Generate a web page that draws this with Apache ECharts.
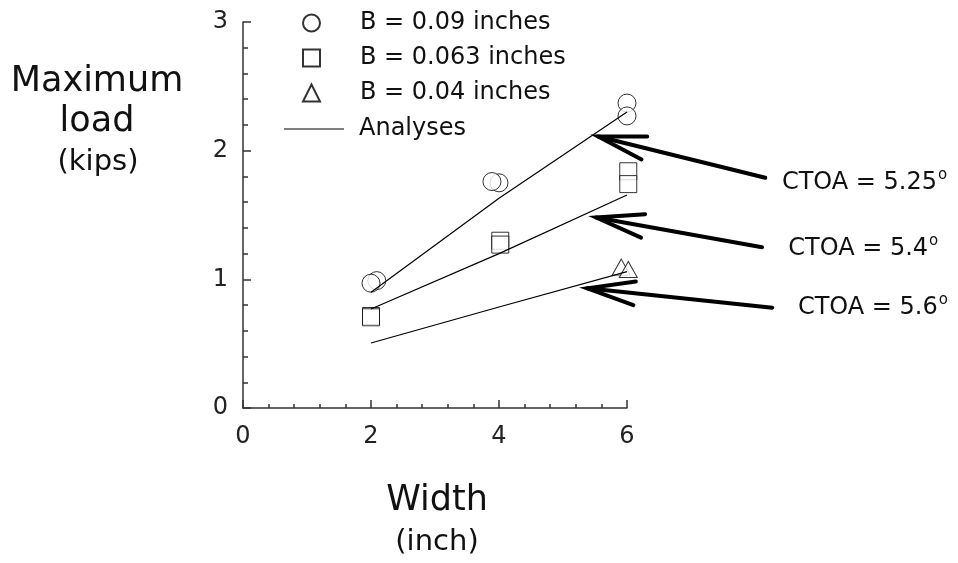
<!DOCTYPE html>
<html>
<head>
<meta charset="utf-8">
<script src="https://cdn.jsdelivr.net/npm/echarts@6/dist/echarts.min.js"></script>
<style>
  html, body { margin: 0; padding: 0; background: #fff; }
  #chart { width: 958px; height: 563px; }
</style>
</head>
<body>
<div id="chart"></div>
<script>
// Measured maximum loads (kips) against panel width (inch), one series per thickness B
const circleWidth = [2.09, 2.0, 4.0, 3.89, 6.0, 6.0];
const circleLoad  = [0.99, 0.97, 1.75, 1.76, 2.37, 2.27];

const squareWidth = [2.0, 2.0, 4.02, 4.02, 6.02, 6.02];
const squareLoad  = [0.715, 0.705, 1.30, 1.27, 1.84, 1.74];

const triangleWidth = [5.91, 6.02];
const triangleLoad  = [1.095, 1.076];

// Analysis curves (one per CTOA value)
const analysisWidth = [2, 4, 6];
const analysisLoadA = [0.90, 1.63, 2.30];   // CTOA = 5.25
const analysisLoadB = [0.77, 1.20, 1.655];  // CTOA = 5.4
const analysisLoadC = [0.505, 0.785, 1.06]; // CTOA = 5.6

// Callouts: arrow tip, arrow tail and label anchor, in data units
const ctoaValues = ['5.25', '5.4', '5.6'];
const arrowTip   = [[5.55, 2.11], [5.52, 1.48], [5.38, 0.93]];
const arrowTail  = [[8.16, 1.79], [8.11, 1.25], [8.27, 0.78]];
const labelAt    = [[8.42, 1.75], [8.52, 1.235], [8.67, 0.777]];

const xTicks = [0, 2, 4, 6];
const yTicks = [0, 1, 2, 3];

const legendNames = ['B = 0.09 inches', 'B = 0.063 inches', 'B = 0.04 inches', 'Analyses'];

const FONT = 'DejaVu Sans';
const INK = '#000';

function pairs(xs, ys) { return xs.map((x, i) => [x, ys[i]]); }

const callouts = ctoaValues.map((v, i) => [
  arrowTip[i][0], arrowTip[i][1], arrowTail[i][0], arrowTail[i][1],
  labelAt[i][0], labelAt[i][1], v
]);

const hollow = { color: '#fff', borderColor: INK, borderWidth: 1 };
const legendText = { fontSize: 24, color: '#111', fontFamily: FONT, lineHeight: 26 };

const chart = echarts.init(document.getElementById('chart'), null, { renderer: 'canvas' });

chart.setOption({
  animation: false,
  backgroundColor: '#fff',
  textStyle: { fontFamily: FONT },
  grid: { left: 243, right: 331, top: 22, bottom: 155, containLabel: false },
  xAxis: {
    type: 'value',
    min: xTicks[0], max: xTicks[xTicks.length - 1], interval: 2,
    axisLine: { show: true, onZero: false, lineStyle: { color: '#333', width: 1.5 } },
    axisTick: { show: true, inside: true, length: 8, lineStyle: { color: '#333', width: 1.5 } },
    minorTick: { show: true, splitNumber: 5, length: 4, lineStyle: { color: '#333', width: 1.5 } },
    splitLine: { show: false },
    axisLabel: { fontSize: 24, color: '#222', margin: 17, fontFamily: FONT }
  },
  yAxis: {
    type: 'value',
    min: yTicks[0], max: yTicks[yTicks.length - 1], interval: 1,
    axisLine: { show: true, onZero: false, lineStyle: { color: '#333', width: 1.5 } },
    axisTick: { show: true, inside: true, length: 8, lineStyle: { color: '#333', width: 1.5 } },
    minorTick: { show: true, splitNumber: 5, length: 5, lineStyle: { color: '#333', width: 1.5 } },
    splitLine: { show: false },
    axisLabel: { fontSize: 24, color: '#222', margin: 15, fontFamily: FONT }
  },
  legend: [
    {
      // test-specimen markers
      data: [
        { name: legendNames[0], icon: 'circle' },
        { name: legendNames[1], icon: 'rect' },
        { name: legendNames[2], icon: 'triangle' }
      ],
      orient: 'vertical',
      left: 297, top: 5,
      itemWidth: 17, itemHeight: 17, itemGap: 9,
      selectedMode: false,
      textStyle: Object.assign({ padding: [0, 0, 0, 35] }, legendText)
    },
    {
      // analysis curve key
      data: [
        { name: legendNames[3], icon: 'path://M0,0 L60,0 L60,1.2 L0,1.2 Z', itemStyle: { color: INK, borderWidth: 0 } }
      ],
      orient: 'vertical',
      left: 279, top: 111,
      itemWidth: 60, itemHeight: 17,
      selectedMode: false,
      textStyle: Object.assign({ padding: [0, 0, 0, 10] }, legendText)
    }
  ],
  graphic: [
    { type: 'text', x: 97, y: 82, style: { text: 'Maximum', font: '35px "DejaVu Sans"', fill: '#111', align: 'center', verticalAlign: 'middle', textAlign: 'center', textVerticalAlign: 'middle' } },
    { type: 'text', x: 97, y: 122, style: { text: 'load', font: '35px "DejaVu Sans"', fill: '#111', align: 'center', verticalAlign: 'middle', textAlign: 'center', textVerticalAlign: 'middle' } },
    { type: 'text', x: 98, y: 162, style: { text: '(kips)', font: '29px "DejaVu Sans"', fill: '#111', align: 'center', verticalAlign: 'middle', textAlign: 'center', textVerticalAlign: 'middle' } },
    { type: 'text', x: 437, y: 501, style: { text: 'Width', font: '35px "DejaVu Sans"', fill: '#111', align: 'center', verticalAlign: 'middle', textAlign: 'center', textVerticalAlign: 'middle' } },
    { type: 'text', x: 437, y: 542, style: { text: '(inch)', font: '29px "DejaVu Sans"', fill: '#111', align: 'center', verticalAlign: 'middle', textAlign: 'center', textVerticalAlign: 'middle' } }
  ],
  series: [
    {
      name: 'B = 0.09 inches', type: 'scatter', symbol: 'circle', symbolSize: 18, clip: false,
      itemStyle: hollow, z: 3, data: pairs(circleWidth, circleLoad)
    },
    {
      name: 'B = 0.063 inches', type: 'scatter', symbol: 'rect', symbolSize: 17, clip: false,
      itemStyle: hollow, z: 3, data: pairs(squareWidth, squareLoad)
    },
    {
      name: 'B = 0.04 inches', type: 'scatter', symbol: 'triangle', symbolSize: [18, 16], clip: false,
      itemStyle: hollow, z: 3, data: pairs(triangleWidth, triangleLoad)
    },
    {
      name: 'Analyses', type: 'line', symbol: 'none', z: 4,
      lineStyle: { color: INK, width: 1.2 }, itemStyle: { color: INK },
      data: pairs(analysisWidth, analysisLoadA)
    },
    {
      name: 'Analyses', type: 'line', symbol: 'none', z: 4,
      lineStyle: { color: INK, width: 1.2 }, itemStyle: { color: INK },
      data: pairs(analysisWidth, analysisLoadB)
    },
    {
      name: 'Analyses', type: 'line', symbol: 'none', z: 4,
      lineStyle: { color: INK, width: 1.2 }, itemStyle: { color: INK },
      data: pairs(analysisWidth, analysisLoadC)
    },
    {
      // CTOA callouts: open-headed arrows pointing at each analysis curve
      name: 'CTOA', type: 'custom', clip: false, z: 5, silent: true,
      data: callouts,
      renderItem: function (params, api) {
        const tip = api.coord([api.value(0), api.value(1)]);
        const tail = api.coord([api.value(2), api.value(3)]);
        const lab = api.coord([api.value(4), api.value(5)]);
        const ang = Math.atan2(tail[1] - tip[1], tail[0] - tip[0]);
        const len = 49, spread = 14 * Math.PI / 180;
        const b1 = [tip[0] + len * Math.cos(ang - spread), tip[1] + len * Math.sin(ang - spread)];
        const b2 = [tip[0] + len * Math.cos(ang + spread), tip[1] + len * Math.sin(ang + spread)];
        const val = callouts[params.dataIndex][6];
        return {
          type: 'group',
          children: [
            { type: 'line', shape: { x1: tip[0], y1: tip[1], x2: tail[0], y2: tail[1] },
              style: { stroke: INK, lineWidth: 4, lineCap: 'round' } },
            { type: 'polyline', shape: { points: [b1, tip, b2] },
              style: { stroke: INK, lineWidth: 4, fill: null, lineCap: 'round', lineJoin: 'miter' } },
            { type: 'text', x: lab[0], y: lab[1],
              style: {
                text: '{m|CTOA = ' + val + '}{s|o}',
                align: 'left', verticalAlign: 'middle',
                rich: {
                  m: { fontSize: 24, fontFamily: FONT, fill: '#111', color: '#111' },
                  s: { fontSize: 15, fontFamily: FONT, fill: '#111', color: '#111', padding: [0, 0, 16, 1] }
                }
              } }
          ]
        };
      }
    }
  ]
});
</script>
</body>
</html>
